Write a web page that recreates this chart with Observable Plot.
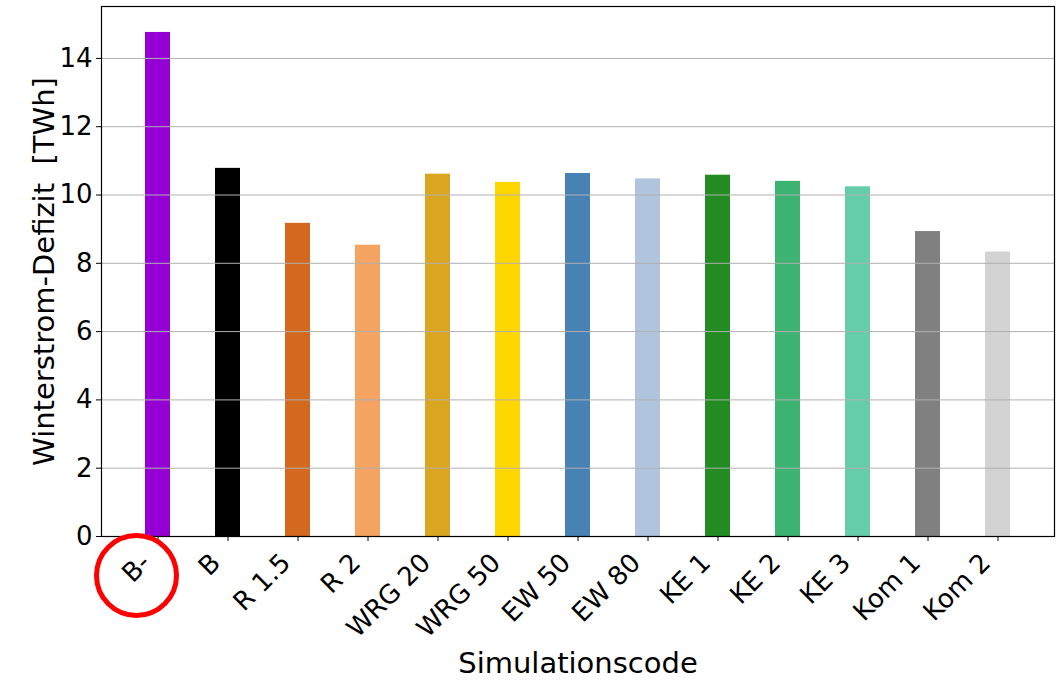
<!DOCTYPE html>
<html>
<head>
<meta charset="utf-8">
<script src="https://cdn.jsdelivr.net/npm/d3@7"></script>
<script src="https://cdn.jsdelivr.net/npm/@observablehq/plot@0.6"></script>
<style>
  html, body { margin: 0; padding: 0; background: #fff; }
  #chart svg text { white-space: pre; }
</style>
</head>
<body>
<div id="chart"></div>
<script>
const codes = ["B-", "B", "R 1.5", "R 2", "WRG 20", "WRG 50", "EW 50", "EW 80", "KE 1", "KE 2", "KE 3", "Kom 1", "Kom 2"];
const deficit = [14.76, 10.78, 9.17, 8.53, 10.61, 10.37, 10.63, 10.47, 10.58, 10.40, 10.24, 8.93, 8.33];
const barColors = ["darkviolet", "black", "chocolate", "sandybrown", "goldenrod", "gold", "steelblue", "lightsteelblue", "forestgreen", "mediumseagreen", "mediumaquamarine", "gray", "lightgray"];
const yTicks = [0, 2, 4, 6, 8, 10, 12, 14];
const highlighted = ["B-"];
const yTitle = "Winterstrom-Defizit  [TWh]";
const xTitle = "Simulationscode";

const data = codes.map((c, i) => ({code: c, value: deficit[i]}));

const chart = Plot.plot({
  width: 1063,
  height: 682,
  marginLeft: 101,
  marginRight: 9,
  marginTop: 6,
  marginBottom: 146,
  style: {fontFamily: "DejaVu Sans, sans-serif", fontSize: "26px", color: "black", background: "white"},
  x: {domain: codes, paddingInner: 0.65, paddingOuter: 0.6175, label: null},
  y: {domain: [0, 15.52], label: null},
  color: {domain: codes, range: barColors},
  marks: [
    Plot.barY(data, {x: "code", y: "value", fill: "code"}),
    Plot.gridY(yTicks, {stroke: "#b0b0b0", strokeOpacity: 1, strokeWidth: 1}),
    Plot.frame({stroke: "black", strokeWidth: 1.2}),
    Plot.axisY(yTicks, {tickSize: 5, tickPadding: 4, label: null, fontSize: 26}),
    Plot.axisX({tickSize: 5, text: null, label: null}),
    Plot.axisX({tickSize: 0, tickPadding: 9, tickRotate: -45, label: null, fontSize: 26, dx: -12, dy: 13}),
    Plot.text([yTitle], {frameAnchor: "left", rotate: -90, dx: -57, textAnchor: "middle", lineAnchor: "middle", fontSize: 29, fill: "black"}),
    Plot.text([xTitle], {frameAnchor: "bottom", dy: 127, textAnchor: "middle", lineAnchor: "middle", fontSize: 29, fill: "black"}),
    Plot.dot(highlighted, {x: d => d, y: () => -1.14, dx: -21.5, r: 40, stroke: "red", strokeWidth: 5, fill: "none"})
  ]
});
document.getElementById("chart").appendChild(chart);
</script>
</body>
</html>
